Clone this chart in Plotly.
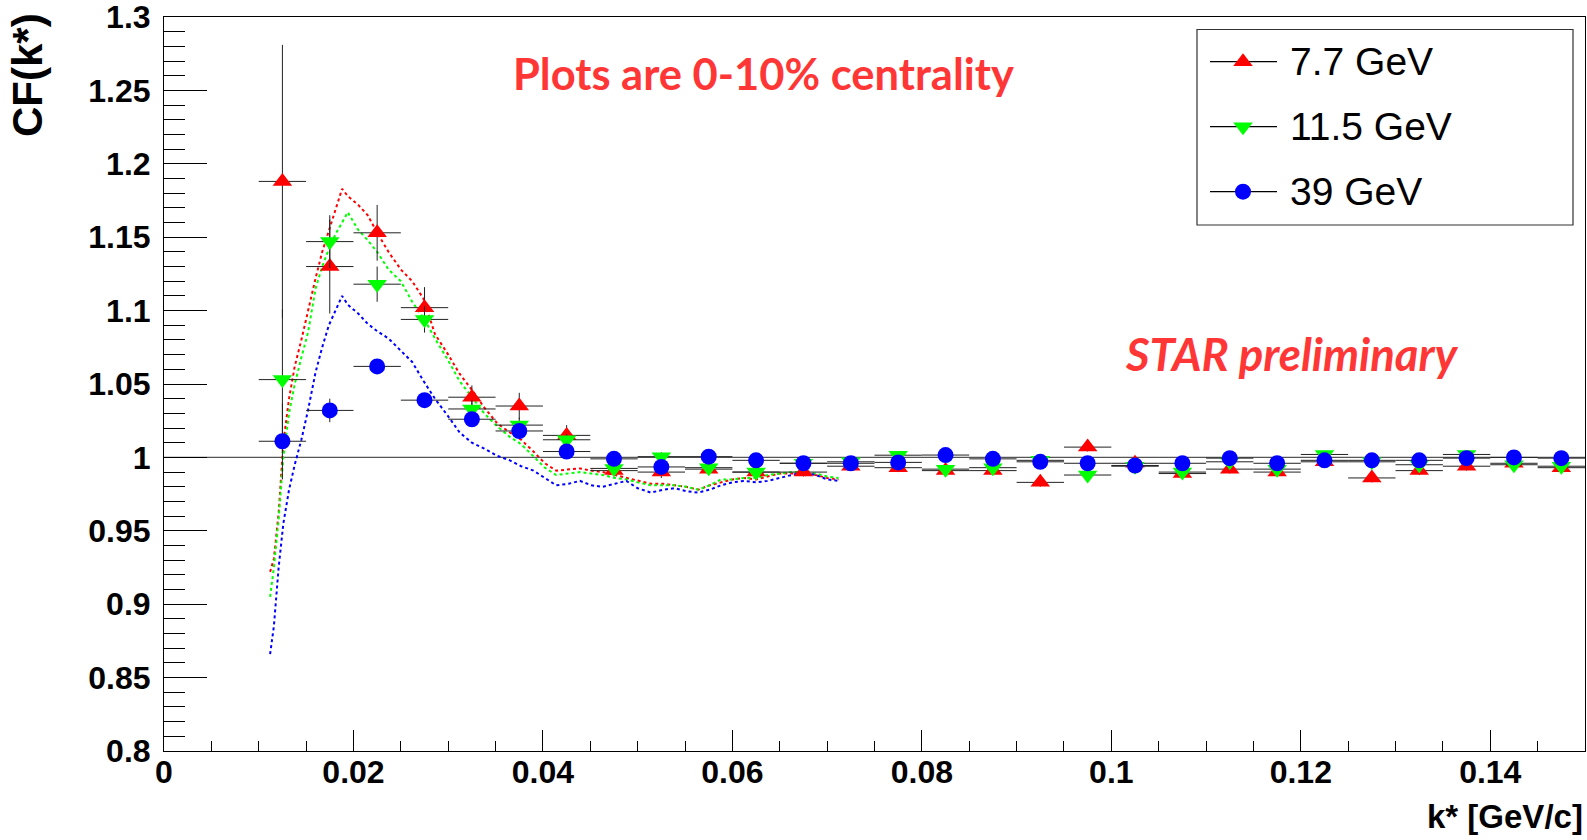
import plotly.graph_objects as go

# ---------------- data ----------------
k_bins = [0.0125, 0.0175, 0.0225, 0.0275, 0.0325, 0.0375, 0.0425, 0.0475, 0.0525, 0.0575,
          0.0625, 0.0675, 0.0725, 0.0775, 0.0825, 0.0875, 0.0925, 0.0975, 0.1025, 0.1075,
          0.1125, 0.1175, 0.1225, 0.1275, 0.1325, 0.1375, 0.1425, 0.1475]
bin_half_width = 0.0025

cf_7p7 = [1.188, 1.130, 1.153, 1.102, 1.041, 1.035, 1.015, 0.991, 0.990, 0.992,
          0.990, 0.990, 0.994, 0.993, 0.991, 0.991, 0.983, 1.007, 0.996, 0.989,
          0.992, 0.990, 0.997, 0.986, 0.991, 0.994, 0.996, 0.993]
err_7p7 = [0.093, 0.032, 0.019, 0.014, 0.008, 0.009, 0.007, 0.004, 0.004, 0.003,
           0.003, 0.003, 0.003, 0.003, 0.003, 0.003, 0.003, 0.003, 0.003, 0.003,
           0.003, 0.003, 0.003, 0.003, 0.003, 0.003, 0.003, 0.003]

cf_11p5 = [1.053, 1.147, 1.118, 1.094, 1.033, 1.022, 1.012, 0.9925, 1.0005, 0.993,
           0.990, 0.996, 0.997, 1.0015, 0.992, 0.993, 0.998, 0.988, 0.994, 0.990,
           0.997, 0.992, 1.002, 0.997, 0.995, 1.002, 0.995, 0.994]
err_11p5 = [0.048, 0.018, 0.012, 0.009, 0.006, 0.005, 0.004, 0.003, 0.003, 0.002,
            0.002, 0.002, 0.002, 0.002, 0.002, 0.002, 0.002, 0.002, 0.002, 0.002,
            0.002, 0.002, 0.002, 0.002, 0.002, 0.002, 0.002, 0.002]

cf_39 = [1.011, 1.032, 1.062, 1.039, 1.026, 1.018, 1.004, 0.999, 0.9935, 1.0005,
         0.998, 0.996, 0.996, 0.9966, 1.0016, 0.999, 0.997, 0.996, 0.9945, 0.996,
         0.9995, 0.996, 0.998, 0.998, 0.998, 0.9995, 1.000, 0.9995]
err_39 = [0.026, 0.008, 0.004, 0.004, 0.003, 0.003, 0.002, 0.002, 0.002, 0.0015,
          0.0015, 0.0015, 0.0015, 0.0015, 0.0015, 0.0015, 0.0015, 0.0015, 0.0015, 0.0015,
          0.0015, 0.0015, 0.0015, 0.0015, 0.0015, 0.0015, 0.0015, 0.0015]

# dotted curves
curve_k = [0.0112, 0.0116, 0.0121, 0.0126, 0.0132, 0.0138, 0.0145, 0.0152, 0.0160, 0.0167,
           0.0174, 0.0181, 0.0188, 0.0194, 0.0205, 0.0215, 0.0225, 0.0237, 0.0250, 0.0262,
           0.0274, 0.0286, 0.0300, 0.0312, 0.0325, 0.0338, 0.0352, 0.0365, 0.0377, 0.0390,
           0.0402, 0.0414, 0.0427, 0.0439, 0.0451, 0.0463, 0.0476, 0.0488, 0.0500, 0.0514,
           0.0527, 0.0539, 0.0551, 0.0564, 0.0576, 0.0588, 0.0600, 0.0612, 0.0625, 0.0637,
           0.0650, 0.0662, 0.0675, 0.0688, 0.0700, 0.0712]
curve_7p7 = [0.922, 0.931, 0.962, 1.010, 1.040, 1.062, 1.080, 1.100, 1.122, 1.140,
             1.154, 1.169, 1.183, 1.178, 1.172, 1.165, 1.153, 1.140, 1.128, 1.120,
             1.108, 1.084, 1.070, 1.057, 1.046, 1.034, 1.023, 1.017, 1.012, 1.004,
             0.996, 0.991, 0.992, 0.9925, 0.991, 0.990, 0.988, 0.986, 0.984, 0.982,
             0.982, 0.981, 0.980, 0.978, 0.981, 0.983, 0.985, 0.986, 0.985, 0.987,
             0.989, 0.989, 0.989, 0.988, 0.986, 0.985]
curve_11p5 = [0.905, 0.925, 0.958, 1.000, 1.030, 1.050, 1.068, 1.085, 1.115, 1.130,
              1.142, 1.152, 1.160, 1.167, 1.155, 1.148, 1.140, 1.128, 1.120, 1.106,
              1.095, 1.081, 1.066, 1.052, 1.041, 1.030, 1.021, 1.014, 1.009, 1.001,
              0.993, 0.988, 0.989, 0.990, 0.989, 0.988, 0.986, 0.985, 0.983, 0.981,
              0.981, 0.981, 0.980, 0.978, 0.981, 0.985, 0.985, 0.986, 0.986, 0.988,
              0.989, 0.990, 0.990, 0.989, 0.987, 0.986]
curve_39 = [0.866, 0.885, 0.925, 0.955, 0.978, 0.995, 1.012, 1.032, 1.058, 1.075,
            1.090, 1.100, 1.110, 1.104, 1.098, 1.091, 1.086, 1.081, 1.073, 1.065,
            1.052, 1.040, 1.028, 1.017, 1.010, 1.006, 1.001, 0.998, 0.994, 0.991,
            0.986, 0.981, 0.982, 0.984, 0.981, 0.980, 0.982, 0.984, 0.979, 0.976,
            0.978, 0.979, 0.977, 0.976, 0.978, 0.981, 0.983, 0.984, 0.983, 0.984,
            0.986, 0.988, 0.990, 0.988, 0.985, 0.984]

series_names = ["7.7 GeV", "11.5 GeV", "39 GeV"]
series_colors = ["#ff0000", "#00ff00", "#0000ff"]
series_symbols = ["triangle-up", "triangle-down", "circle"]
series_sizes = [17, 17, 16]

x_range = [0.0, 0.15]
y_range = [0.8, 1.3000001]

# ---------------- geometry (pixels) ----------------
W, H = 1587, 840
ML, MR, MT, MB = 164, 2, 17, 89
PW, PH = W - ML - MR, H - MT - MB


def px_x(p):
    return (p - ML) / PW


def px_y(p):
    return (H - MB - p) / PH


AX_FONT = "Liberation Sans, Arial, Helvetica, sans-serif"
RED_TXT = "#ff3636"

fig = go.Figure()

# dotted curves
for name, col, yv in zip(series_names, series_colors, [curve_7p7, curve_11p5, curve_39]):
    fig.add_trace(go.Scatter(
        x=curve_k, y=yv, mode="lines",
        line=dict(color=col, width=2, dash="dot"),
        showlegend=False, hoverinfo="skip"))

# data points
for name, col, sym, sz, yv, ev in zip(series_names, series_colors, series_symbols, series_sizes,
                                      [cf_7p7, cf_11p5, cf_39], [err_7p7, err_11p5, err_39]):
    fig.add_trace(go.Scatter(
        x=k_bins, y=yv, mode="markers", name=name,
        marker=dict(symbol=sym, color=col, size=sz, line=dict(width=0)),
        error_y=dict(type="data", array=ev, visible=True, color="#222222",
                     thickness=1, width=0),
        error_x=dict(type="constant", value=bin_half_width, visible=True,
                     color="#222222", thickness=1, width=0),
        showlegend=False))

# legend markers on overlay axes
leg_rows = [61.7, 126.7, 191.7]
for name, col, sym, sz, ry in zip(series_names, series_colors, series_symbols, series_sizes, leg_rows):
    fig.add_trace(go.Scatter(
        x=[px_x(1243)], y=[px_y(ry)], mode="markers", xaxis="x2", yaxis="y2",
        marker=dict(symbol=sym, color=col, size=sz, line=dict(width=0)),
        showlegend=False, hoverinfo="skip", cliponaxis=False))

shapes = []
# y = 1 reference line
shapes.append(dict(type="line", xref="x", yref="y", x0=x_range[0], x1=x_range[1],
                   y0=1.0, y1=1.0, line=dict(color="#555555", width=1.2), layer="below"))
# legend box
shapes.append(dict(type="rect", xref="paper", yref="paper",
                   x0=px_x(1197), x1=px_x(1573), y0=px_y(225), y1=px_y(29.5),
                   line=dict(color="#333333", width=1.2), fillcolor="white", layer="below"))
for ry in leg_rows:
    shapes.append(dict(type="line", xref="paper", yref="paper",
                       x0=px_x(1210), x1=px_x(1277), y0=px_y(ry), y1=px_y(ry),
                       line=dict(color="black", width=1.2), layer="below"))

annotations = []
for name, ry in zip(series_names, leg_rows):
    annotations.append(dict(text=name, xref="paper", yref="paper", x=px_x(1288), y=px_y(ry),
                            xanchor="left", yanchor="middle", showarrow=False,
                            font=dict(family=AX_FONT, size=39, color="black")))
annotations.append(dict(text="<b>Plots are 0-10% centrality</b>", xref="paper", yref="paper",
                        x=px_x(763), y=px_y(73), xanchor="center", yanchor="middle",
                        showarrow=False,
                        font=dict(family="Lato, Open Sans, sans-serif", size=43.5, color=RED_TXT)))
annotations.append(dict(text="<b><i>STAR preliminary</i></b>", xref="paper", yref="paper",
                        x=px_x(1292), y=px_y(354), xanchor="center", yanchor="middle",
                        showarrow=False,
                        font=dict(family="Lato, Open Sans, sans-serif", size=45.5, color=RED_TXT)))
annotations.append(dict(text="<b>k* [GeV/c]</b>", xref="paper", yref="paper",
                        x=1.0, y=px_y(816), xanchor="right", yanchor="middle",
                        showarrow=False,
                        font=dict(family=AX_FONT, size=33, color="black")))
annotations.append(dict(text="<b>CF(k*)</b>", xref="paper", yref="paper",
                        x=px_x(27), y=px_y(11), xanchor="center", yanchor="top",
                        textangle=-90, showarrow=False,
                        font=dict(family=AX_FONT, size=42, color="black")))

fig.update_layout(
    width=W, height=H,
    margin=dict(l=ML, r=MR, t=MT, b=MB, pad=0, autoexpand=False),
    paper_bgcolor="white", plot_bgcolor="white",
    showlegend=False,
    shapes=shapes, annotations=annotations,
    xaxis=dict(range=x_range, showgrid=False, zeroline=False, automargin=False,
               showline=True, linecolor="black", linewidth=1, mirror=True,
               ticks="inside", ticklen=21, tickcolor="black", tickwidth=1,
               tick0=0, dtick=0.02,
               minor=dict(dtick=0.005, ticks="inside", ticklen=10,
                          tickcolor="black", tickwidth=1, showgrid=False),
               tickfont=dict(family=AX_FONT, size=32, color="black", weight="bold"),
               ticklabelstandoff=-7, ticklabeloverflow="allow"),
    yaxis=dict(range=y_range, showgrid=False, zeroline=False, automargin=False,
               showline=True, linecolor="black", linewidth=1, mirror=True,
               ticks="inside", ticklen=43, tickcolor="black", tickwidth=1,
               tick0=0.8, dtick=0.05,
               minor=dict(dtick=0.01, ticks="inside", ticklen=21,
                          tickcolor="black", tickwidth=1, showgrid=False),
               tickfont=dict(family=AX_FONT, size=32, color="black", weight="bold"),
               ticklabelstandoff=6, ticklabeloverflow="allow"),
    xaxis2=dict(overlaying="x", range=[0, 1], visible=False, fixedrange=True),
    yaxis2=dict(overlaying="y", range=[0, 1], visible=False, fixedrange=True),
)

fig.write_html("out.html")
